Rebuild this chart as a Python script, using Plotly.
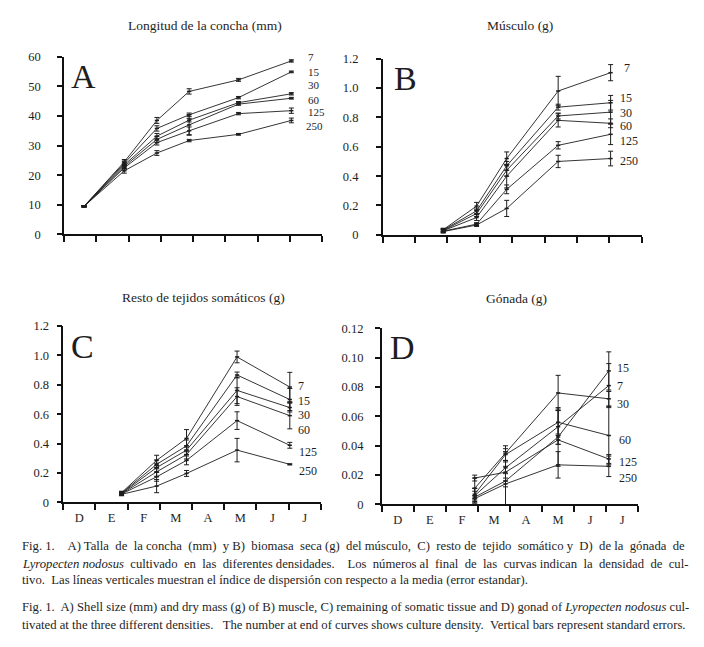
import plotly.graph_objects as go

W, H = 704, 647
SHIFT = 8  # the page adds an 8 px body margin; compensate
FONT = "Liberation Serif"
INK = "#1e1e1e"

densities = ["7", "15", "30", "60", "125", "250"]
months = ["D", "E", "F", "M", "A", "M", "J", "J"]

# sampling dates (month index, month i spans [i, i+1])
x_A = [0.62, 1.87, 2.88, 3.88, 5.41, 7.05]
x_B = [1.87, 2.90, 3.83, 5.42, 7.04]
x_C = [1.81, 2.90, 3.83, 5.40, 7.04]
x_D = [2.90, 3.86, 5.50, 7.08]

# A) shell length (mm)
A_vals = {
    "7":   [9.5, 24.5, 38.5, 48.3, 52.2, 58.6],
    "15":  [9.5, 24.0, 35.8, 40.4, 46.2, 54.9],
    "30":  [9.5, 23.5, 33.2, 38.6, 44.5, 47.5],
    "60":  [9.5, 23.0, 32.1, 37.0, 44.0, 46.0],
    "125": [9.5, 22.5, 31.0, 35.0, 40.8, 41.8],
    "250": [9.5, 21.5, 27.5, 31.7, 33.8, 38.5],
}
A_err = {
    "7":   [0.2, 0.8, 1.0, 0.9, 0.5, 0.4],
    "15":  [0.2, 0.8, 0.9, 0.6, 0.4, 0.3],
    "30":  [0.2, 0.7, 0.9, 0.6, 0.4, 0.4],
    "60":  [0.2, 0.7, 1.0, 3.5, 0.4, 0.3],
    "125": [0.2, 0.7, 0.8, 1.3, 0.4, 0.9],
    "250": [0.2, 0.8, 0.8, 0.4, 0.3, 0.8],
}

# B) muscle (g)
B_vals = {
    "7":   [0.035, 0.196, 0.52, 0.98, 1.105],
    "15":  [0.033, 0.163, 0.47, 0.87, 0.900],
    "30":  [0.030, 0.145, 0.44, 0.81, 0.836],
    "60":  [0.028, 0.118, 0.40, 0.78, 0.760],
    "125": [0.025, 0.073, 0.31, 0.61, 0.685],
    "250": [0.022, 0.067, 0.18, 0.50, 0.520],
}
B_err = {
    "7":   [0.010, 0.025, 0.045, 0.100, 0.055],
    "15":  [0.010, 0.020, 0.030, 0.020, 0.050],
    "30":  [0.010, 0.020, 0.040, 0.020, 0.080],
    "60":  [0.010, 0.020, 0.080, 0.045, 0.030],
    "125": [0.010, 0.010, 0.030, 0.025, 0.070],
    "250": [0.010, 0.010, 0.055, 0.042, 0.050],
}

# C) remaining somatic tissue (g)
C_vals = {
    "7":   [0.065, 0.285, 0.435, 0.99, 0.785],
    "15":  [0.062, 0.258, 0.384, 0.867, 0.700],
    "30":  [0.060, 0.236, 0.355, 0.762, 0.645],
    "60":  [0.058, 0.207, 0.325, 0.720, 0.590],
    "125": [0.056, 0.173, 0.285, 0.556, 0.388],
    "250": [0.054, 0.110, 0.196, 0.355, 0.258],
}
C_err = {
    "7":   [0.010, 0.035, 0.060, 0.040, 0.100],
    "15":  [0.010, 0.030, 0.040, 0.020, 0.075],
    "30":  [0.010, 0.030, 0.030, 0.090, 0.030],
    "60":  [0.010, 0.030, 0.030, 0.060, 0.090],
    "125": [0.010, 0.030, 0.030, 0.060, 0.020],
    "250": [0.010, 0.045, 0.020, 0.080, 0.004],
}

# D) gonad (g)
D_vals = {
    "7":   [0.006, 0.025, 0.053, 0.081],
    "15":  [0.005, 0.016, 0.046, 0.091],
    "30":  [0.011, 0.035, 0.076, 0.072],
    "60":  [0.007, 0.034, 0.056, 0.047],
    "125": [0.018, 0.022, 0.044, 0.031],
    "250": [0.004, 0.014, 0.027, 0.026],
}
D_err = {
    "7":   [0.005, 0.004, 0.012, 0.015],
    "15":  [0.004, 0.020, 0.020, 0.013],
    "30":  [0.007, 0.005, 0.012, 0.005],
    "60":  [0.004, 0.004, 0.008, 0.020],
    "125": [0.002, 0.004, 0.003, 0.003],
    "250": [0.002, 0.002, 0.009, 0.007],
}

A_ticks = [0, 10, 20, 30, 40, 50, 60]
A_ticktext = ["0", "10", "20", "30", "40", "50", "60"]
BC_ticks = [0, 0.2, 0.4, 0.6, 0.8, 1.0, 1.2]
BC_ticktext = ["0", "0.2", "0.4", "0.6", "0.8", "1.0", "1.2"]
D_ticks = [0, 0.02, 0.04, 0.06, 0.08, 0.10, 0.12]
D_ticktext = ["0", "0.02", "0.04", "0.06", "0.08", "0.10", "0.12"]

# end-of-curve labels (x in month units, y in data units)
A_lab = {"7": (7.55, 59.8), "15": (7.55, 55.0), "30": (7.55, 50.3),
         "60": (7.55, 45.5), "125": (7.55, 41.3), "250": (7.47, 36.5)}
B_lab = {"7": (7.42, 1.14), "15": (7.30, 0.933), "30": (7.30, 0.833),
         "60": (7.30, 0.74), "125": (7.30, 0.64), "250": (7.30, 0.50)}
C_lab = {"7": (7.27, 0.791), "15": (7.27, 0.689), "30": (7.27, 0.591),
         "60": (7.27, 0.491), "125": (7.30, 0.345), "250": (7.30, 0.213)}
D_lab = {"15": (7.32, 0.0933), "7": (7.32, 0.0804), "30": (7.32, 0.0682),
         "60": (7.36, 0.044), "125": (7.36, 0.0289), "250": (7.36, 0.0178)}

titles = ["Longitud de la concha (mm)", "Músculo (g)",
          "Resto de tejidos somáticos (g)", "Gónada (g)"]
letters = ["A", "B", "C", "D"]

caption = [
    "Fig. 1.  A) Talla de la concha (mm) y B) biomasa seca (g) del músculo, C) resto de tejido somático y D) de la gónada de",
    "<i>Lyropecten nodosus</i> cultivado en las diferentes densidades.  Los números al final de las curvas indican la densidad de cul-",
    "tivo.  Las líneas verticales muestran el índice de dispersión con respecto a la media (error estandar).",
    "Fig. 1.  A) Shell size (mm) and dry mass (g) of B) muscle, C) remaining of somatic tissue and D) gonad of <i>Lyropecten nodosus</i> cul-",
    "tivated at the three different densities.  The number at end of curves shows culture density. Vertical bars represent standard errors.",
]
# extra word spaces per caption line to imitate the justified print
caption_extra = [17, 15, 0, 0, 2]


def justify(text, extra):
    words = text.split(" ")
    gaps = len(words) - 1
    if extra <= 0 or gaps <= 0:
        return text
    marks = {int(round((k + 0.5) * gaps / extra)) for k in range(extra)}
    out = words[0]
    for g in range(gaps):
        sep = " \u00a0" if g in marks else " "
        out += sep + words[g + 1]
    return out


def px_x(px):
    return (px - SHIFT) / W


def px_y(py):
    return 1 - (py - SHIFT) / H


# panel geometry in reference pixels: (x_left, x_right, y_top, y_bottom)
boxes = [
    (64.0, 322.0, 50.7, 232.3),
    (382.7, 641.7, 52.7, 232.7),
    (63.3, 320.7, 326.0, 506.0),
    (381.7, 638.3, 328.3, 508.3),
]

panels = [
    (x_A, A_vals, A_err, A_lab, [0, 60], A_ticks, A_ticktext, False, 14, 11),
    (x_B, B_vals, B_err, B_lab, [0, 1.2], BC_ticks, BC_ticktext, False, 15, 12),
    (x_C, C_vals, C_err, C_lab, [0, 1.2], BC_ticks, BC_ticktext, True, 5, 12),
    (x_D, D_vals, D_err, D_lab, [0, 0.12], D_ticks, D_ticktext, True, 9, 12),
]

fig = go.Figure()
annotations = []
layout = {}

for i, (xs, vals, errs, labs, yr, yt, ytt, show_months, standoff, labsize) in enumerate(panels):
    n = "" if i == 0 else str(i + 1)
    xa, ya = "x" + n, "y" + n
    for d in densities:
        fig.add_trace(go.Scatter(
            x=xs, y=vals[d], mode="lines+markers", xaxis=xa, yaxis=ya,
            line=dict(color=INK, width=0.9),
            marker=dict(size=3, color=INK, symbol="line-ew", line=dict(width=1.5, color=INK)),
            error_y=dict(type="data", array=errs[d], visible=True,
                         color=INK, thickness=1, width=2.5),
            showlegend=False, cliponaxis=False,
        ))
        lx, ly = labs[d]
        annotations.append(dict(x=lx, y=ly, xref=xa, yref=ya, text=d, showarrow=False,
                                xanchor="left", yanchor="middle", borderpad=0,
                                font=dict(family=FONT, size=labsize, color=INK)))
    x0, x1, y0, y1 = boxes[i]
    xaxis = dict(domain=[px_x(x0), px_x(x1)], range=[0, 8], anchor=ya,
                 showline=True, linecolor="#111", linewidth=1.6,
                 showgrid=False, zeroline=False, fixedrange=True)
    if show_months:
        xaxis.update(tickmode="array", tickvals=[k + 0.5 for k in range(8)],
                     ticktext=months, ticks="", ticklabelstandoff=3,
                     tickfont=dict(family=FONT, size=12.5, color=INK),
                     minor=dict(tickmode="array", tickvals=list(range(9)),
                                ticks="outside", ticklen=6, tickwidth=1.5,
                                tickcolor="#111", showgrid=False))
    else:
        xaxis.update(tickmode="array", tickvals=list(range(9)), ticks="outside",
                     ticklen=6, tickwidth=1.5, tickcolor="#111", showticklabels=False)
    yaxis = dict(domain=[px_y(y1), px_y(y0)], range=yr, anchor=xa,
                 showline=True, linecolor="#111", linewidth=1.6,
                 tickmode="array", tickvals=yt, ticktext=ytt, ticks="outside",
                 ticklen=5, tickwidth=1.5, tickcolor="#111",
                 ticklabelstandoff=standoff,
                 tickfont=dict(family=FONT, size=12.5, color=INK),
                 showgrid=False, zeroline=False, fixedrange=True)
    layout["xaxis" + n] = xaxis
    layout["yaxis" + n] = yaxis

# titles and panel letters (reference pixel positions converted to paper)
title_pos = [(205, 19), (520, 19), (204, 297), (516, 298)]
letter_pos = [(83, 71), (405, 73), (82, 347), (402, 348)]
for t, (px, py) in zip(titles, title_pos):
    annotations.append(dict(x=px_x(px), y=px_y(py), xref="paper", yref="paper", text=t,
                            showarrow=False, xanchor="center", yanchor="middle",
                            font=dict(family=FONT, size=13.5, color=INK)))
for t, (px, py) in zip(letters, letter_pos):
    annotations.append(dict(x=px_x(px), y=px_y(py), xref="paper", yref="paper", text=t,
                            showarrow=False, xanchor="center", yanchor="middle",
                            font=dict(family=FONT, size=34, color=INK)))

cap_y = [551, 569, 586, 613, 631]
for t, extra, py in zip(caption, caption_extra, cap_y):
    annotations.append(dict(x=px_x(20), y=px_y(py), xref="paper", yref="paper",
                            text=justify(t, extra),
                            showarrow=False, xanchor="left", yanchor="middle",
                            font=dict(family=FONT, size=12.7, color=INK)))

fig.update_layout(
    width=W, height=H, margin=dict(l=0, r=0, t=0, b=0),
    paper_bgcolor="white", plot_bgcolor="white",
    annotations=annotations, showlegend=False,
    font=dict(family=FONT, color=INK),
    **layout,
)

fig.write_html("out.html", config={"displayModeBar": False})
